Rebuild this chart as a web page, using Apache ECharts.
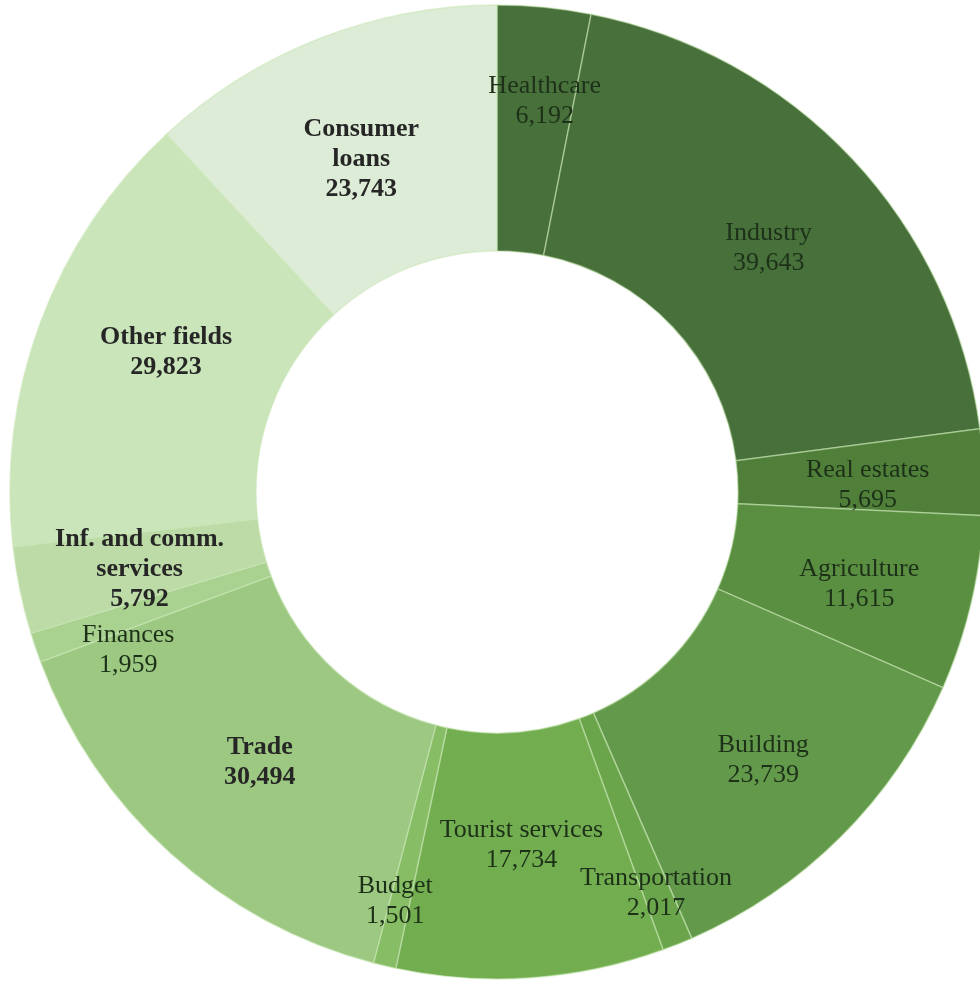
<!DOCTYPE html>
<html>
<head>
<meta charset="utf-8">
<script src="https://cdn.jsdelivr.net/npm/echarts@6/dist/echarts.min.js"></script>
<style>
  html, body { margin: 0; padding: 0; background: #ffffff; }
  #chart { width: 980px; height: 986px; }
</style>
</head>
<body>
<div id="chart"></div>
<script>
// Loans by sector, clockwise from 12 o'clock
const categories = [
  'Healthcare', 'Industry', 'Real estates', 'Agriculture', 'Building',
  'Transportation', 'Tourist services', 'Budget', 'Trade', 'Finances',
  'Inf. and comm.\nservices', 'Other fields', 'Consumer\nloans'
];
const values = [6192, 39643, 5695, 11615, 23739, 2017, 17734, 1501, 30494, 1959, 5792, 29823, 23743];

// Green ramp, dark to light
const sliceColors = [
  '#47703a', '#47703a', '#4f7f39', '#5a8f41', '#63994a', '#6aa54b', '#72ae50',
  '#87bd64', '#9cc882', '#a9d190', '#bcdba6', '#cae5b9', '#ddecd6'
];

// Sectors whose labels are set in bold
const boldLabels = ['Trade', 'Inf. and comm.\nservices', 'Other fields', 'Consumer\nloans'];

// Small label nudges away from the ring's mid-radius
const labelNudge = {
  'Healthcare': [12, -26],
  'Industry': [4, 7],
  'Real estates': [4, 8],
  'Agriculture': [5, 8],
  'Building': [7, 8],
  'Transportation': [23, 60],
  'Tourist services': [-1, -13],
  'Budget': [-17, 52],
  'Trade': [9, -2],
  'Finances': [-21, 41],
  'Inf. and comm.\nservices': [2, 3],
  'Other fields': [13, -12],
  'Consumer\nloans': [-2, 9]
};

const fmt = v => v.toLocaleString('en-US');

const seriesData = categories.map((name, i) => {
  const bold = boldLabels.indexOf(name) >= 0;
  return {
    name: name,
    value: values[i],
    itemStyle: { color: sliceColors[i] },
    label: {
      offset: labelNudge[name] || [0, 0],
      fontWeight: bold ? 'bold' : 'normal',
      color: bold ? '#262626' : '#1d3119'
    }
  };
});

const chart = echarts.init(document.getElementById('chart'), null, { renderer: 'canvas' });
chart.setOption({
  animation: false,
  backgroundColor: '#ffffff',
  series: [{
    type: 'pie',
    center: [497, 492],
    radius: [241, 487],
    startAngle: 90,
    clockwise: true,
    avoidLabelOverlap: false,
    silent: true,
    itemStyle: {
      borderColor: 'rgba(200, 230, 180, 0.55)',
      borderWidth: 1.5
    },
    label: {
      show: true,
      position: 'inside',
      fontFamily: '"Liberation Serif", "Times New Roman", serif',
      fontSize: 26,
      lineHeight: 30,
      align: 'center',
      formatter: p => p.name + '\n' + fmt(p.value)
    },
    labelLayout: { hideOverlap: false, moveOverlap: null },
    labelLine: { show: false },
    emphasis: { disabled: true },
    data: seriesData
  }]
});
</script>
</body>
</html>
